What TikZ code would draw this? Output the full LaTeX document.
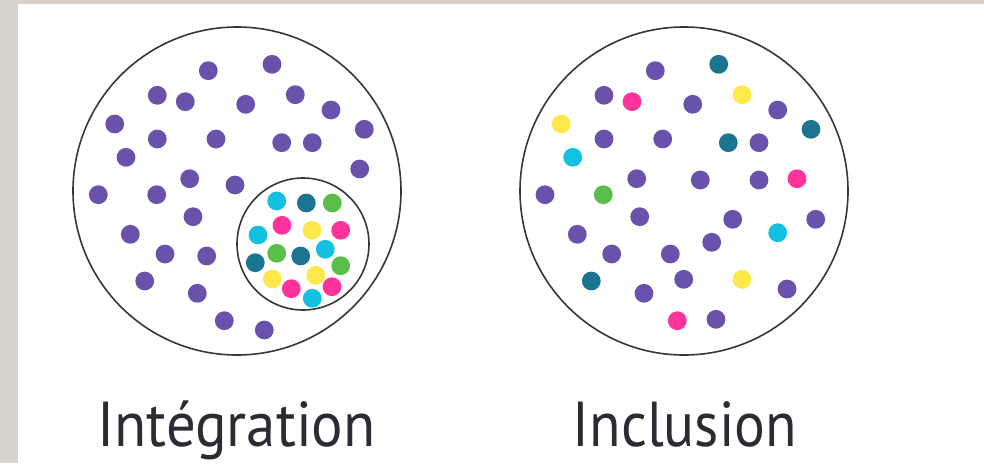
\documentclass[tikz,border=0pt]{standalone}
\usepackage{fontspec}
\setmainfont{PT Sans}
\usepackage{graphicx}
\definecolor{bgband}{HTML}{D8D2CC}
\definecolor{pu}{HTML}{6952AB}
\definecolor{te}{HTML}{1B7490}
\definecolor{gr}{HTML}{5BBE4B}
\definecolor{cy}{HTML}{12C1E1}
\definecolor{pk}{HTML}{FF3399}
\definecolor{ye}{HTML}{FFE94A}
\definecolor{ink}{HTML}{2B2B33}
\newcommand\fitw[2]{\setbox0\hbox{#2}\pgfmathsetmacro\myfitratio{#1/\the\wd0}\scalebox{\myfitratio}[1]{\box0}}
\tikzset{
  ring/.style={draw=ink!95, line width=1.6pt},
  lbl/.style={anchor=base west, inner sep=0pt, text=ink, font=\fontsize{63.5}{70}\selectfont},
}
\begin{document}
\begin{tikzpicture}[x=1pt,y=-1pt]
\useasboundingbox (0,0) rectangle (984,463);
\fill[white] (0,0) rectangle (984,463);
\fill[bgband] (0,0) rectangle (984,3.5);
\fill[bgband] (0,0) rectangle (17.5,463);
% circles
\draw[ring] (237,191) circle (164);
\draw[ring] (303,244) circle (66);
\draw[ring] (684,191) circle (164);
% left purple dots
\foreach \x/\y in {208.3/70.7,272/64.3,157.3/95.3,185.3/101.7,245.7/104.3,295.3/94.7,331/110,114.7/124,364.3/129.3,157.3/139,216/139,281.7/142.7,312.3/142.7,126/157.3,359.7/169,189.7/178.7,235/185,98.3/194.7,156.7/194.7,193/216.7,130.3/234.3,165/254,206.7/256,144.7/281,197.3/293.3,224.3/320.7,264.3/330}
  {\fill[pu] (\x,\y) circle (9.4);}
% inner dots
\foreach \c/\x/\y in {cy/276.7/201,te/306.3/203,gr/332.3/203,pk/282/225.3,ye/312/230.3,pk/340.7/230.3,cy/258/235,gr/276.7/253.3,te/300.7/256,cy/325.3/249.3,te/255.3/262.7,gr/340.7/265.7,ye/272.3/279,ye/315.7/275.3,pk/291.3/288.7,pk/332/286.7,cy/312.3/298.3}
  {\fill[\c] (\x,\y) circle (9.4);}
% right dots
\foreach \c/\x/\y in {pu/655.3/70.7,te/718.7/64.3,pu/604/95.3,pk/632/101.7,pu/692.7/104.3,ye/742/94.7,pu/777.7/110,ye/561.3/124,te/811/129.3,pu/604/139,pu/662.7/139,te/728.3/142.7,pu/759/142.7,cy/572.7/157.3,pu/636.7/178.7,pu/700.3/180,pu/759/180,pk/797/178.7,pu/545/194.7,gr/603.3/194.7,pu/639.7/216.7,pu/732.7/219.3,pu/815.7/219.3,pu/577.3/234.3,cy/777.7/232.7,pu/711.7/242.3,pu/611.7/254,pu/670.3/254,te/591.3/281,pu/683.7/279.3,ye/742/279.3,pu/644/293.3,pu/787/289,pk/677.3/320.7,pu/716/319.3}
  {\fill[\c] (\x,\y) circle (9.4);}
% labels
\node[lbl] (tint) at (97.3,446.7) {\fitw{278}{Intégration}};
\node[lbl] (tinc) at (572.7,446.7) {\fitw{224}{Inclusion}};
\end{tikzpicture}
\end{document}
